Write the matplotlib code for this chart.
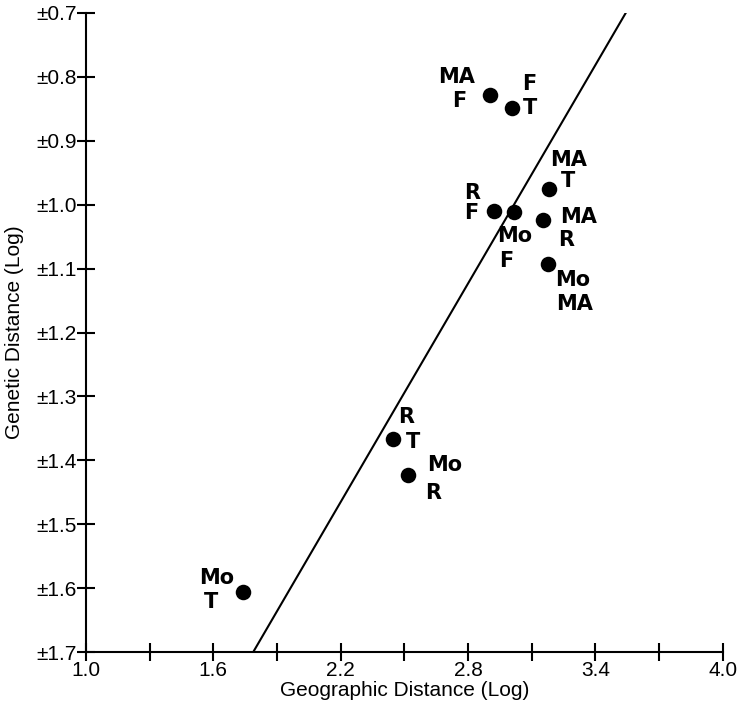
import matplotlib.pyplot as plt
import numpy as np

# ---------------------------------------------------------
# Data
# ---------------------------------------------------------
pair_top = ['MA', 'F', 'MA', 'R', 'Mo', 'MA', 'Mo', 'R', 'Mo', 'Mo']
pair_bottom = ['F', 'T', 'T', 'F', 'F', 'R', 'MA', 'T', 'R', 'T']
geo_dist = [2.904, 3.006, 3.182, 2.924, 3.018, 3.155, 3.179, 2.448, 2.519, 1.741]
gen_dist = [-0.829, -0.848, -0.976, -1.010, -1.012, -1.024, -1.093, -1.366, -1.423, -1.606]

fit_x = [1.788, 3.543]
fit_y = [-1.7, -0.7]

x_ticks = [1.0, 1.3, 1.6, 1.9, 2.2, 2.5, 2.8, 3.1, 3.4, 3.7, 4.0]
y_ticks = [-0.7, -0.8, -0.9, -1.0, -1.1, -1.2, -1.3, -1.4, -1.5, -1.6, -1.7]

# label offsets from each dot, in pixels (dx, dy down) for top and bottom line
top_off = [(-34, -18), (18, -24), (19, -29), (-22, -18), (0, 24),
           (35, -3), (24, 16), (13, -22), (36, -10), (-27, -14)]
bot_off = [(-31, 6), (18, 0), (19, -8), (-23, 2), (-8, 49),
           (23, 20), (26, 40), (20, 3), (25, 18), (-32, 10)]

# ---------------------------------------------------------
# Plot
# ---------------------------------------------------------
plt.rcParams['font.family'] = ['Liberation Sans', 'DejaVu Sans']

fig = plt.figure(figsize=(7.44, 7.16), dpi=100)
ax = fig.add_axes([86 / 744, 1 - 652 / 716, (722.7 - 86) / 744, (652 - 13) / 716])

ax.plot(fit_x, fit_y, color='black', linewidth=1.5, zorder=2)
ax.scatter(geo_dist, gen_dist, s=125, color='black', zorder=3, linewidths=0)

px2pt = 72 / 100
for i in range(len(geo_dist)):
    for txt, (dx, dy) in ((pair_top[i], top_off[i]), (pair_bottom[i], bot_off[i])):
        ax.annotate(
            txt,
            (geo_dist[i], gen_dist[i]),
            xytext=(dx * px2pt, -dy * px2pt),
            textcoords='offset points',
            ha='center', va='center',
            fontsize=15, fontweight='bold',
            family='DejaVu Sans'
        )

ax.set_xlim(1.0, 4.0)
ax.set_ylim(-1.7, -0.7)

ax.set_xticks(x_ticks)
ax.set_xticklabels([f'{v:.1f}' if i % 2 == 0 else '' for i, v in enumerate(x_ticks)])
ax.set_yticks(y_ticks)
ax.set_yticklabels([f'±{abs(v):.1f}' for v in y_ticks])

ax.tick_params(direction='inout', length=13, width=1.5, labelsize=15, pad=0)
ax.tick_params(axis='x', pad=0)

for side in ['top', 'right']:
    ax.spines[side].set_visible(False)
for side in ['left', 'bottom']:
    ax.spines[side].set_linewidth(1.5)

ax.set_xlabel('Geographic Distance (Log)', fontsize=15, labelpad=1)
ax.set_ylabel('Genetic Distance (Log)', fontsize=15, labelpad=9)

fig.savefig('out.png', dpi=100)
